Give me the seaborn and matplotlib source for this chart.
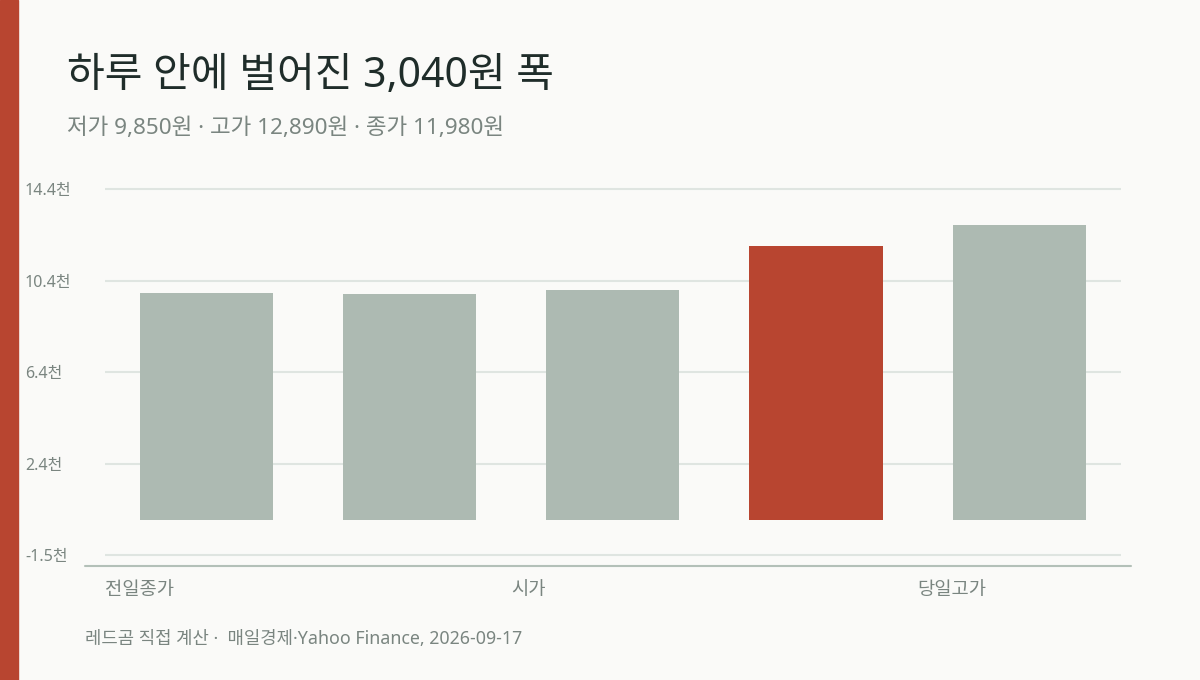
import matplotlib.pyplot as plt
import seaborn as sns
from matplotlib.lines import Line2D
from matplotlib.patches import Rectangle

categories = ['전일종가', '저가', '시가', '종가', '당일고가']
prices = [9910, 9850, 10030, 11980, 12890]
highlight = '종가'
tick_values = [-1550, 2450, 6450, 10450, 14450]
tick_labels = ['-1.5천', '2.4천', '6.4천', '10.4천', '14.4천']
shown_labels = ['전일종가', '시가', '당일고가']

title = '하루 안에 벌어진 3,040원 폭'
subtitle = '저가 9,850원 · 고가 12,890원 · 종가 11,980원'
source = '레드곰 직접 계산 ·  매일경제·Yahoo Finance, 2026-09-17'

bg = '#fafaf8'
red = '#b84530'
grey = '#adbab2'
text_grey = '#7a8580'

sns.set_theme(style='white')
plt.rcParams['font.family'] = ['Noto Sans', 'Noto Sans CJK KR', 'DejaVu Sans']

fig = plt.figure(figsize=(12, 6.8), dpi=100, facecolor=bg)
ax = fig.add_axes([0.0875, 0.16765, 0.8464, 0.5578])
ax.set_facecolor(bg)

palette = [red if c == highlight else grey for c in categories]
sns.barplot(x=categories, y=prices, hue=categories, palette=palette,
            legend=False, width=0.655, saturation=1, linewidth=0, ax=ax)

ax.set_xlim(-0.5, len(categories) - 0.5)
ax.set_ylim(-2015, 14560)
ax.set_yticks(tick_values)
ax.set_yticklabels(tick_labels)
ax.yaxis.grid(True, color='#dfe5e1', linewidth=1.5)
ax.set_axisbelow(True)
for s in ax.spines.values():
    s.set_visible(False)

# labels sit at the left edge of every second band
ax.set_xticks([categories.index(c) - 0.5 for c in shown_labels])
ax.set_xticklabels(shown_labels, ha='left')
ax.tick_params(axis='x', length=0, pad=11, labelsize=13.5, labelcolor=text_grey)
ax.tick_params(axis='y', length=0, pad=57.6, labelsize=11.5, labelcolor=text_grey)
for lab in ax.get_yticklabels():
    lab.set_horizontalalignment('left')
ax.set_xlabel('')
ax.set_ylabel('')

ax.add_line(Line2D([-0.0197, 1.0101], [0, 0], transform=ax.transAxes,
                   color='#b3c0b8', linewidth=1.5, clip_on=False))

fig.patches.append(Rectangle((0, 0), 18 / 1200, 1, transform=fig.transFigure,
                             color=red, zorder=0))

fig.text(0.0558, 0.8882, title, fontsize=29.5, color='#1f2d2a', va='center')
fig.text(0.0558, 0.8118, subtitle, fontsize=16.2, color=text_grey, va='center')
fig.text(0.0708, 0.0603, source, fontsize=12.8, color=text_grey, va='center')

plt.savefig('out.png', dpi=100, facecolor=bg)
